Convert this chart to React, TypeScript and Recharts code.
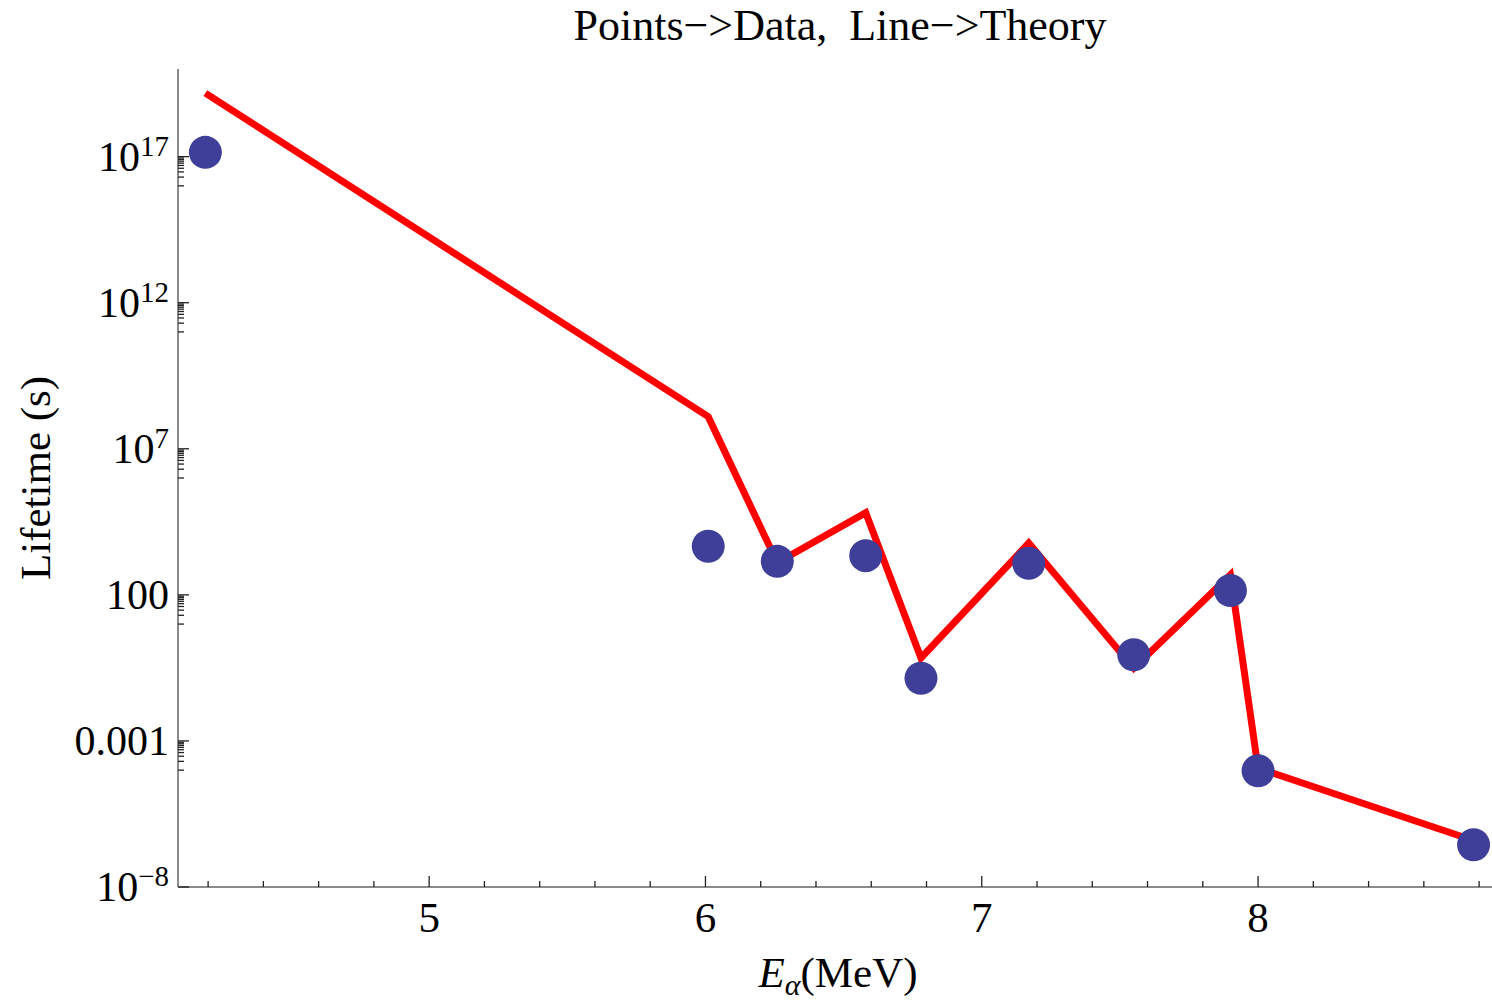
import React from "react";
import { ComposedChart, Scatter, Line, XAxis, YAxis, Label } from "recharts";

// alpha energies (MeV), shared by data points and theory line
const energies = [4.19, 6.01, 6.26, 6.58, 6.78, 7.17, 7.55, 7.9, 8.0, 8.78];
// measured lifetimes (s)
const measuredLifetimes = [1.4e17, 4.6e3, 1.4e3, 2.2e3, 0.14, 1.2e3, 0.89, 141, 9.5e-5, 2.8e-7];
// theory lifetimes (s)
const theoryLifetimes = [1.5e19, 1.26e8, 1.26e3, 6.5e4, 0.69, 5.9e3, 0.31, 490, 1.17e-4, 3.9e-7];

const xMajorTicks = [5, 6, 7, 8];
const xMinorTicks = [4.2, 4.4, 4.6, 4.8, 5.2, 5.4, 5.6, 5.8, 6.2, 6.4, 6.6, 6.8, 7.2, 7.4, 7.6, 7.8, 8.2, 8.4, 8.6, 8.8];
const yMajorTicks = [1e-8, 1e-3, 1e2, 1e7, 1e12, 1e17];
const yMajorLabels = ["10^\u22128", "0.001", "100", "10^7", "10^12", "10^17"];
const minorMultipliers = [1, 2, 3, 4, 5, 6, 7, 8, 9];

const pointData = energies.map((x, i) => ({ x, y: measuredLifetimes[i] }));
const lineData = energies.map((x, i) => ({ x, y: theoryLifetimes[i] }));

const xTicks = [...xMajorTicks, ...xMinorTicks].sort((a, b) => a - b);
const yMinorTicks = yMajorTicks.slice(1).flatMap((t) => minorMultipliers.map((m) => (m * t) / 10));
const yTicks = [...yMajorTicks, ...yMinorTicks].sort((a, b) => a - b);

const FONT = "'Liberation Serif', 'Times New Roman', serif";
const FRAME = "#8a8a8a";
const TICK = "#222";

const XTick = (props: any) => {
  const { x, y, payload, top } = props;
  const major = xMajorTicks.includes(payload.value);
  const len = major ? 11 : 6;
  const dir = top ? 1 : -1;
  return (
    <g>
      <line x1={x} x2={x} y1={y} y2={y + dir * len} stroke={TICK} strokeWidth={1.3} />
      {major && !top && (
        <text x={x} y={y + 45} textAnchor="middle" fontSize={43} fontFamily={FONT} fill="#000">
          {payload.value}
        </text>
      )}
    </g>
  );
};

const YTick = (props: any) => {
  const { x, y, payload } = props;
  const idx = yMajorTicks.indexOf(payload.value);
  const major = idx >= 0;
  const len = major ? 11 : 6;
  let label: React.ReactNode = null;
  if (major) {
    const [base, exp] = yMajorLabels[idx].split("^");
    label = (
      <text x={x - 9} y={y + 14} textAnchor="end" fontSize={42} fontFamily={FONT} fill="#000">
        {base}
        {exp && (
          <tspan dy={-15} fontSize={29}>
            {exp}
          </tspan>
        )}
      </text>
    );
  }
  return (
    <g>
      <line x1={x} x2={x + len} y1={y} y2={y} stroke={TICK} strokeWidth={1.3} />
      {label}
    </g>
  );
};

const Dot = (props: any) => <circle cx={props.cx} cy={props.cy} r={16.5} fill="#3f3f9a" />;

export default function App() {
  return (
    <div style={{ position: "fixed", left: 0, top: 0, width: 1492, height: 1000, overflow: "hidden", background: "#fff" }}>
      <svg width={1492} height={60} style={{ position: "absolute", left: 0, top: 0 }}>
        <text x={840} y={40} textAnchor="middle" fontSize={44} fontFamily={FONT} fill="#000" style={{ whiteSpace: "pre" }}>
          {"Points\u2212>Data,  Line\u2212>Theory"}
        </text>
      </svg>
      <div style={{ position: "absolute", left: 0, top: 0 }}>
        <ComposedChart width={1510} height={1000} margin={{ top: 69, right: 11, bottom: 0, left: 0 }}>
          <XAxis
            xAxisId="bottom"
            dataKey="x"
            type="number"
            domain={[4.091, 8.872]}
            allowDataOverflow
            ticks={xTicks}
            interval={0}
            height={113}
            tickSize={0}
            tickMargin={0}
            tickLine={false}
            axisLine={{ stroke: FRAME, strokeWidth: 2 }}
            tick={<XTick />}
          >
            <Label
              content={() => (
                <text x={838} y={987} textAnchor="middle" fontSize={43} fontFamily={FONT} fill="#000">
                  <tspan fontStyle="italic">E</tspan>
                  <tspan fontStyle="italic" fontSize={30} dy={8}>
                    α
                  </tspan>
                  <tspan dy={-8}>(MeV)</tspan>
                </text>
              )}
            />
          </XAxis>
          <XAxis
            xAxisId="top"
            orientation="top"
            dataKey="x"
            type="number"
            domain={[4.091, 8.872]}
            allowDataOverflow
            ticks={xTicks}
            interval={0}
            height={0}
            tickSize={0}
            tickMargin={0}
            tickLine={false}
            axisLine={{ stroke: FRAME, strokeWidth: 2 }}
            tick={<XTick top />}
          />
          <YAxis
            dataKey="y"
            scale="log"
            type="number"
            domain={[1e-8, 1e20]}
            allowDataOverflow
            ticks={yTicks}
            interval={0}
            width={178}
            tickSize={0}
            tickMargin={0}
            tickLine={false}
            axisLine={{ stroke: FRAME, strokeWidth: 2 }}
            tick={<YTick />}
          >
            <Label
              content={() => (
                <text
                  x={50}
                  y={478}
                  transform="rotate(-90 50 478)"
                  textAnchor="middle"
                  fontSize={43}
                  fontFamily={FONT}
                  fill="#000"
                >
                  Lifetime (s)
                </text>
              )}
            />
          </YAxis>
          <Scatter xAxisId="bottom" data={pointData} dataKey="y" shape={<Dot />} isAnimationActive={false} />
          <Line
            xAxisId="bottom"
            data={lineData}
            dataKey="y"
            type="linear"
            stroke="#ff0000"
            strokeWidth={7}
            strokeLinejoin="miter"
            dot={false}
            activeDot={false}
            isAnimationActive={false}
          />
        </ComposedChart>
      </div>
    </div>
  );
}
